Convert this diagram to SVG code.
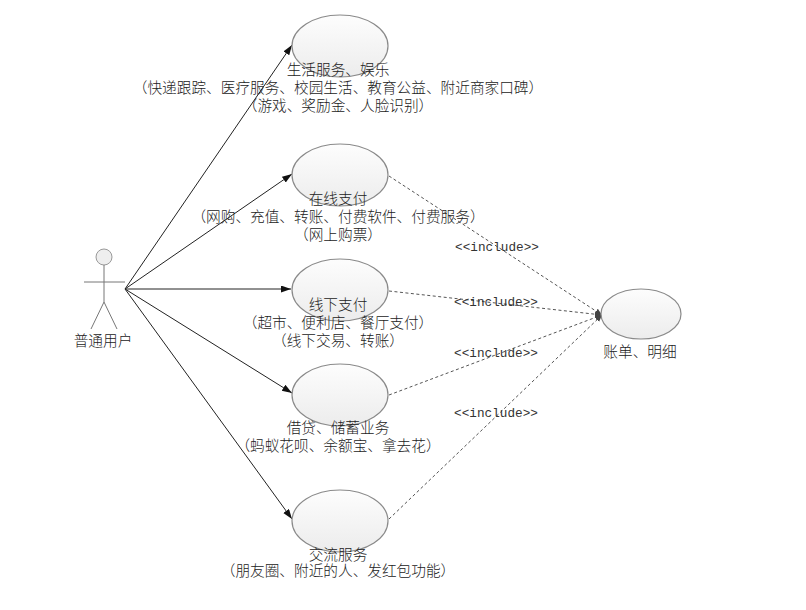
<svg xmlns="http://www.w3.org/2000/svg" width="806" height="610" viewBox="0 0 806 610">
<style>
text{font-family:"Noto Sans CJK SC","Liberation Sans",sans-serif;font-size:14.67px;font-weight:300;fill:#222;text-anchor:middle}
.inc{font-family:"Liberation Mono","DejaVu Sans Mono",monospace;font-size:12.7px;font-weight:400;fill:#333}
.uc{fill:url(#g);stroke:#8a8a8a;stroke-width:1.2}
.a{stroke:#222;stroke-width:1;fill:none;marker-end:url(#ah)}
.d{stroke:#555;stroke-width:1;stroke-dasharray:3 2.5;fill:none;marker-end:url(#dh)}
.act{stroke:#777;stroke-width:1;fill:none}
</style>
<defs>
<linearGradient id="g" x1="0" y1="0" x2="0" y2="1"><stop offset="0" stop-color="#fdfdfd"/><stop offset="1" stop-color="#ececec"/></linearGradient>
<marker id="ah" markerUnits="userSpaceOnUse" markerWidth="11" markerHeight="9" refX="10" refY="3.5" orient="auto"><path d="M0 0L10 3.5L0 7z" fill="#111"/></marker>
<marker id="dh" markerUnits="userSpaceOnUse" markerWidth="8" markerHeight="7" refX="7" refY="3" orient="auto"><path d="M0 0L7 3L0 6z" fill="#444"/></marker>
</defs>
<rect width="806" height="610" fill="#fff"/>
<g id="connectors">
<path class="a" d="M125 289L292 45"/>
<path class="a" d="M125 289L292 174"/>
<path class="a" d="M125 289L291 289"/>
<path class="a" d="M125 289L292 393"/>
<path class="a" d="M125 289L292 519"/>
<path class="d" d="M389 176L602 315"/>
<path class="d" d="M389 291L602 315"/>
<path class="d" d="M389 395L602 315"/>
<path class="d" d="M389 519L602 315"/>
</g>
<g id="actor">
<circle cx="104" cy="257" r="8" fill="#eee" stroke="#999"/>
<path class="act" d="M104 265V302M84 282H125M104 302L91 329M104 302L117 329"/>
<text x="103" y="346">普通用户</text>
</g>
<g id="uc1"><ellipse class="uc" cx="340" cy="46" rx="48" ry="31"/>
<text x="338" y="75">生活服务、娱乐</text>
<text x="338" y="93">（快递跟踪、医疗服务、校园生活、教育公益、附近商家口碑）</text>
<text x="338" y="111">（游戏、奖励金、人脸识别）</text></g>
<g id="uc2"><ellipse class="uc" cx="340" cy="175" rx="48" ry="31"/>
<text x="338" y="204">在线支付</text>
<text x="338" y="222">（网购、充值、转账、付费软件、付费服务）</text>
<text x="338" y="240">（网上购票）</text></g>
<g id="uc3"><ellipse class="uc" cx="340" cy="290" rx="48" ry="31"/>
<text x="338" y="310">线下支付</text>
<text x="338" y="328">（超市、便利店、餐厅支付）</text>
<text x="338" y="346">（线下交易、转账）</text></g>
<g id="uc4"><ellipse class="uc" cx="340" cy="395" rx="48" ry="31"/>
<text x="338" y="433">借贷、储蓄业务</text>
<text x="338" y="451">（蚂蚁花呗、余额宝、拿去花）</text></g>
<g id="uc5"><ellipse class="uc" cx="340" cy="521" rx="48" ry="31"/>
<text x="338" y="560">交流服务</text>
<text x="338" y="576">（朋友圈、附近的人、发红包功能）</text></g>
<g id="uc6"><ellipse class="uc" cx="641" cy="314" rx="40" ry="25"/>
<text x="640" y="357">账单、明细</text></g>
<g id="labels">
<text class="inc" x="497" y="251">&lt;&lt;include&gt;&gt;</text>
<text class="inc" x="496" y="306">&lt;&lt;include&gt;&gt;</text>
<text class="inc" x="496" y="357">&lt;&lt;include&gt;&gt;</text>
<text class="inc" x="496" y="417">&lt;&lt;include&gt;&gt;</text>
</g>
</svg>
